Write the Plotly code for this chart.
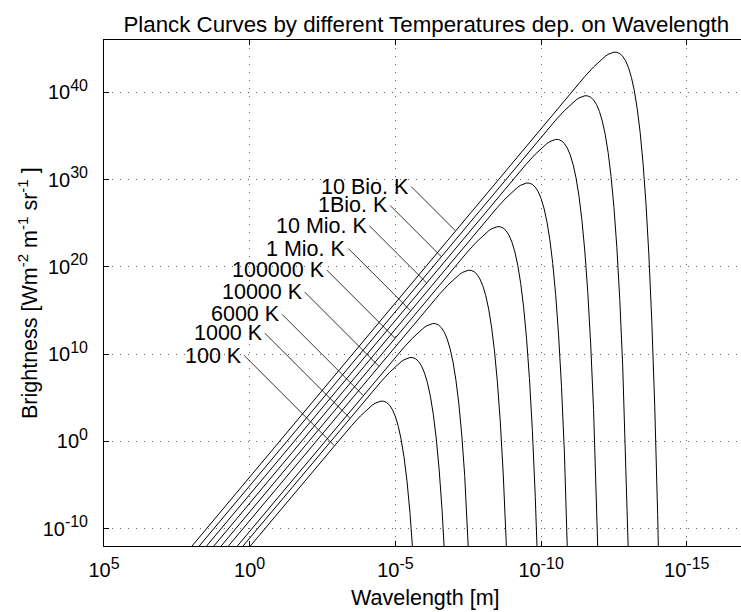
import plotly.graph_objects as go

# ---------------- data: log10(wavelength [m]) and log10(brightness) ----------------
lam_100K = [0.23, -3.0, -3.25, -3.5, -3.8, -4.0, -4.1, -4.2, -4.3, -4.4, -4.5, -4.6, -4.7, -4.8, -4.9,
            -5.0, -5.1, -5.2, -5.3, -5.4, -5.5, -5.6]
brt_100K = [-13.0, -0.114, 0.861, 1.816, 2.906, 3.569, 3.867, 4.132, 4.354, 4.518, 4.605, 4.590, 4.445,
            4.133, 3.612, 2.827, 1.710, 0.173, -1.892, -4.620, -8.184, -12.800]

lam_1000K = [0.48, -4.0, -4.25, -4.5, -4.8, -5.0, -5.1, -5.2, -5.3, -5.4, -5.5, -5.6, -5.7, -5.8, -5.9,
             -6.0, -6.1, -6.2, -6.3, -6.4, -6.5, -6.6, -6.7]
brt_1000K = [-13.0, 4.886, 5.861, 6.816, 7.906, 8.569, 8.867, 9.132, 9.354, 9.518, 9.605, 9.590, 9.445,
             9.133, 8.612, 7.827, 6.710, 5.173, 3.108, 0.380, -3.184, -7.800, -13.741]

lam_6000K = [0.674, -4.778, -5.028, -5.278, -5.578, -5.778, -5.878, -5.978, -6.078, -6.178, -6.278,
             -6.378, -6.478, -6.578, -6.678, -6.778, -6.878, -6.978, -7.078, -7.178, -7.278, -7.378,
             -7.478, -7.578]
brt_6000K = [-13.0, 8.777, 9.752, 10.706, 11.797, 12.460, 12.758, 13.023, 13.245, 13.409, 13.496,
             13.481, 13.336, 13.024, 12.503, 11.718, 10.600, 9.063, 6.999, 4.271, 0.707, -3.909,
             -9.851, -17.460]

lam_1e5K = [0.98, -6.0, -6.25, -6.5, -6.8, -7.0, -7.1, -7.2, -7.3, -7.4, -7.5, -7.6, -7.7, -7.8, -7.9,
            -8.0, -8.1, -8.2, -8.3, -8.4, -8.5, -8.6, -8.7, -8.8, -8.9]
brt_1e5K = [-13.0, 14.886, 15.861, 16.816, 17.906, 18.569, 18.867, 19.132, 19.354, 19.518, 19.605,
            19.590, 19.445, 19.133, 18.612, 17.827, 16.710, 15.173, 13.108, 10.380, 6.816, 2.200,
            -3.741, -11.351, -21.059]

lam_1e6K = [1.23, -7.0, -7.25, -7.5, -7.8, -8.0, -8.1, -8.2, -8.3, -8.4, -8.5, -8.6, -8.7, -8.8, -8.9,
            -9.0, -9.1, -9.2, -9.3, -9.4, -9.5, -9.6, -9.7, -9.8, -9.9]
brt_1e6K = [-13.0, 19.886, 20.861, 21.816, 22.906, 23.569, 23.867, 24.132, 24.354, 24.518, 24.605,
            24.590, 24.445, 24.133, 23.612, 22.827, 21.710, 20.173, 18.108, 15.380, 11.816, 7.200,
            1.259, -6.351, -16.059]

lam_1e7K = [1.48, -8.0, -8.25, -8.5, -8.8, -9.0, -9.1, -9.2, -9.3, -9.4, -9.5, -9.6, -9.7, -9.8, -9.9,
            -10.0, -10.1, -10.2, -10.3, -10.4, -10.5, -10.6, -10.7, -10.8, -10.9, -11.0]
brt_1e7K = [-13.0, 24.886, 25.861, 26.816, 27.906, 28.569, 28.867, 29.132, 29.354, 29.518, 29.605,
            29.590, 29.445, 29.133, 28.612, 27.827, 26.710, 25.173, 23.108, 20.380, 16.816, 12.200,
            6.259, -1.351, -11.059, -23.410]

lam_1e8K = [1.73, -9.0, -9.25, -9.5, -9.8, -10.0, -10.1, -10.2, -10.3, -10.4, -10.5, -10.6, -10.7,
            -10.8, -10.9, -11.0, -11.1, -11.2, -11.3, -11.4, -11.5, -11.6, -11.7, -11.8, -11.9, -12.0]
brt_1e8K = [-13.0, 29.886, 30.861, 31.816, 32.906, 33.569, 33.867, 34.132, 34.354, 34.518, 34.605,
            34.590, 34.445, 34.133, 33.612, 32.827, 31.710, 30.173, 28.108, 25.380, 21.816, 17.200,
            11.259, 3.649, -6.059, -18.410]

lam_1e9K = [1.98, -10.0, -10.25, -10.5, -10.8, -11.0, -11.1, -11.2, -11.3, -11.4, -11.5, -11.6, -11.7,
            -11.8, -11.9, -12.0, -12.1, -12.2, -12.3, -12.4, -12.5, -12.6, -12.7, -12.8, -12.9, -13.0]
brt_1e9K = [-13.0, 34.886, 35.861, 36.816, 37.906, 38.569, 38.867, 39.132, 39.354, 39.518, 39.605,
            39.590, 39.445, 39.133, 38.612, 37.827, 36.710, 35.173, 33.108, 30.380, 26.816, 22.200,
            16.259, 8.649, -1.059, -13.410]

lam_1e10K = [2.23, -11.0, -11.25, -11.5, -11.8, -12.0, -12.1, -12.2, -12.3, -12.4, -12.5, -12.6, -12.7,
             -12.8, -12.9, -13.0, -13.1, -13.2, -13.3, -13.4, -13.5, -13.6, -13.7, -13.8, -13.9, -14.0,
             -14.1]
brt_1e10K = [-13.0, 39.886, 40.861, 41.816, 42.906, 43.569, 43.867, 44.132, 44.354, 44.518, 44.605,
             44.590, 44.445, 44.133, 43.612, 42.827, 41.710, 40.173, 38.108, 35.380, 31.816, 27.200,
             21.259, 13.649, 3.941, -8.410, -24.089]

curve_lams = [lam_100K, lam_1000K, lam_6000K, lam_1e5K, lam_1e6K, lam_1e7K, lam_1e8K, lam_1e9K, lam_1e10K]
curve_brts = [brt_100K, brt_1000K, brt_6000K, brt_1e5K, brt_1e6K, brt_1e7K, brt_1e8K, brt_1e9K, brt_1e10K]

# labels (bottom to top, same order as curves)
curve_labels = ["100 K", "1000 K", "6000 K", "10000 K", "100000 K", "1 Mio. K", "10 Mio. K", "1Bio. K",
                "10 Bio. K"]

SUP = "<sup><span style='font-size:16px'>{}</span></sup>"
x_tick_vals = [1e5, 1e0, 1e-5, 1e-10, 1e-15]
x_tick_exps = ["5", "0", "-5", "-10", "-15"]
y_tick_vals = [1e-10, 1e0, 1e10, 1e20, 1e30, 1e40]
y_tick_exps = ["-10", "0", "10", "20", "30", "40"]
x_tick_text = ["10" + SUP.format(e) for e in x_tick_exps]
y_tick_text = ["10" + SUP.format(e) for e in y_tick_exps]

# ---------------- figure ----------------
FONT = "Liberation Sans, Arial, Helvetica, sans-serif"

fig = go.Figure()
for lams, brts in zip(curve_lams, curve_brts):
    fig.add_trace(go.Scatter(
        x=[10 ** v for v in lams], y=[10 ** v for v in brts],
        mode="lines", line=dict(color="black", width=1),
        showlegend=False, hoverinfo="skip"))

# leader-line label placement: (head log10 x, head log10 y, tail offset px)
label_heads = [(-2.900, -0.482, -90), (-3.435, 2.658, -85), (-3.892, 5.264, -81), (-4.427, 8.626, -74),
               (-4.979, 11.834, -68), (-5.515, 14.978, -62), (-6.064, 18.174, -57), (-6.568, 21.19, -51),
               (-7.056, 24.142, -44)]

annotations = []
for text, (hx, hy, off) in zip(curve_labels, label_heads):
    annotations.append(dict(
        x=hx, y=hy, xref="x", yref="y", text=text, showarrow=True, arrowhead=0,
        arrowwidth=0.8, arrowcolor="black", ax=off, ay=off, axref="pixel", ayref="pixel",
        xanchor="right", yanchor="middle", standoff=0, startstandoff=0,
        font=dict(family=FONT, size=21.5, color="black")))

annotations.append(dict(
    text="Wavelength [m]", xref="paper", yref="paper", x=0.504, y=0, yshift=-52,
    xanchor="center", yanchor="middle", showarrow=False,
    font=dict(family=FONT, size=21.5, color="black")))
annotations.append(dict(
    text="Brightness [Wm<sup>-2</sup> m<sup>-1</sup> sr<sup>-1</sup> ]", xref="paper", yref="paper",
    x=0, xshift=-76, y=0.5, xanchor="center", yanchor="middle", textangle=-90, showarrow=False,
    font=dict(family=FONT, size=21.5, color="black")))

axis_common = dict(
    type="log", showline=True, linecolor="black", linewidth=1,
    ticks="inside", ticklen=5, tickcolor="black", tickwidth=1,
    showgrid=True, gridcolor="#666666", gridwidth=1, griddash="1px,7px",
    zeroline=False, tickmode="array", automargin=False,
    tickfont=dict(family=FONT, size=20, color="black"))

fig.update_xaxes(**axis_common, range=[5, -16.86], tickvals=x_tick_vals, ticktext=x_tick_text,
                 mirror="ticks", ticklabelstandoff=6)
fig.update_yaxes(**axis_common, range=[-12, 46], tickvals=y_tick_vals, ticktext=y_tick_text,
                 mirror=False, ticklabelstandoff=11)

fig.update_layout(
    template="none",
    width=741, height=612,
    margin=dict(l=104, r=0, t=40, b=66, autoexpand=False),
    paper_bgcolor="white", plot_bgcolor="white",
    title=dict(text="Planck Curves by different Temperatures dep. on Wavelength",
               x=0.506, xref="paper", xanchor="center",
               y=1 - 24 / 612, yref="container", yanchor="middle",
               font=dict(family=FONT, size=22.3, color="black")),
    annotations=annotations,
)

fig.write_html("out.html", config={"displayModeBar": False, "staticPlot": True},
               post_script="document.body.style.margin='0px';document.body.style.overflow='hidden';")
